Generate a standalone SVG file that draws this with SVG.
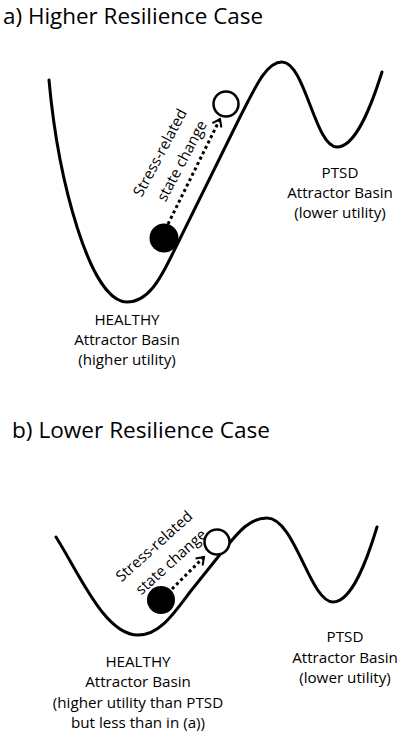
<svg xmlns="http://www.w3.org/2000/svg" width="400" height="735" viewBox="0 0 400 735">
<style>
text{font-family:"Open Sans","Noto Sans","Liberation Sans",sans-serif;fill:#000}
.title{font-size:22.5px}
.lbl{font-size:15.2px;text-anchor:middle}
.rot{font-size:15px;text-anchor:middle}
.curve{fill:none;stroke:#000;stroke-width:3;stroke-linejoin:round;stroke-linecap:round}
.arrow{fill:none;stroke:#000;stroke-width:3;stroke-dasharray:3 3}
.full{fill:#000}
.empty{fill:#fff;stroke:#000;stroke-width:2.5}
</style>
<defs>
<marker id="chev" markerUnits="userSpaceOnUse" markerWidth="12" markerHeight="12" refX="8" refY="6" orient="auto" overflow="visible">
<path d="M1,1 L8,6 L1,11" fill="none" stroke="#000" stroke-width="2" stroke-dasharray="none"/>
</marker>
</defs>
<rect width="400" height="735" fill="#fff"/>

<g id="panel-a">
<text class="title" x="3" y="24" textLength="260" lengthAdjust="spacingAndGlyphs">a) Higher Resilience Case</text>
<path id="landscape-a" class="curve" d="M49,80 C58,180 90,302 127,302 C148,302 160,279 170,259 L240,117 C255,88 266,62 282,62 C305,62 315,147 337,147 C355,147 370,110 382,72"/>
<g id="healthy-a">
<text class="lbl" x="127" y="325">HEALTHY</text>
<text class="lbl" x="127" y="345">Attractor Basin</text>
<text class="lbl" x="127" y="365">(higher utility)</text>
</g>
<g id="ptsd-a">
<text class="lbl" x="340" y="178">PTSD</text>
<text class="lbl" x="340" y="198">Attractor Basin</text>
<text class="lbl" x="340" y="218">(lower utility)</text>
</g>
<g id="ball-start-a"><circle class="full" cx="164" cy="238" r="14.5"/></g>
<g id="ball-end-a"><circle class="empty" cx="226" cy="104" r="12.5"/></g>
<g id="label-a">
<text class="rot" transform="translate(164.6,155.1) rotate(-62)"><tspan x="0" y="0">Stress-related</tspan><tspan x="3" y="23">state change</tspan></text>
</g>
</g>

<g id="panel-b">
<text class="title" x="12" y="438" textLength="258" lengthAdjust="spacingAndGlyphs">b) Lower Resilience Case</text>
<path id="landscape-b" class="curve" d="M56,537 C80,575 105,635 138,635 C160,635 175,612 190,592 L222,552 C240,530 250,518 267,518 C295,518 310,602 333,602 C352,602 367,560 377,527"/>
<g id="healthy-b">
<text class="lbl" x="138" y="667">HEALTHY</text>
<text class="lbl" x="138" y="687">Attractor Basin</text>
<text class="lbl" x="138" y="708">(higher utility than PTSD</text>
<text class="lbl" x="138" y="728">but less than in (a))</text>
</g>
<g id="ptsd-b">
<text class="lbl" x="345" y="642">PTSD</text>
<text class="lbl" x="345" y="663">Attractor Basin</text>
<text class="lbl" x="345" y="683">(lower utility)</text>
</g>
<g id="ball-start-b"><circle class="full" cx="161" cy="600" r="14"/></g>
<g id="ball-end-b"><circle class="empty" cx="217" cy="542" r="12.5"/></g>
<g id="label-b">
<text class="rot" transform="translate(157.5,550) rotate(-42)"><tspan x="0" y="0">Stress-related</tspan><tspan x="2" y="23">state change</tspan></text>
</g>
</g>

<g id="connectors">
<line class="arrow" x1="168" y1="224" x2="220" y2="119" marker-end="url(#chev)"/>
<line class="arrow" x1="172" y1="589" x2="204" y2="557" marker-end="url(#chev)"/>
</g>
</svg>
